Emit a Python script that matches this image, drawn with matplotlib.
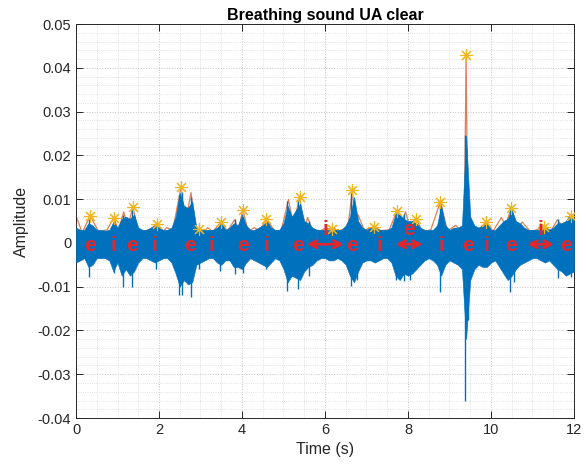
import numpy as np
import matplotlib
matplotlib.use("Agg")
import matplotlib.pyplot as plt
from matplotlib.ticker import MultipleLocator

plt.rcParams['font.family'] = ['Liberation Sans', 'DejaVu Sans']

# signal band: upper / lower extent of the waveform sampled every 0.1 s
band_t = np.linspace(0, 12, 121)
band_hi = [0.0035, 0.003, 0.003, 0.0045, 0.004, 0.003, 0.003, 0.0028, 0.003, 0.0048,
           0.0035, 0.0055, 0.006, 0.0055, 0.0065, 0.0035, 0.003, 0.003, 0.0035, 0.004,
           0.0035, 0.003, 0.003, 0.0035, 0.006, 0.0115, 0.0085, 0.008, 0.0095, 0.0035,
           0.003, 0.003, 0.003, 0.003, 0.0035, 0.0045, 0.003, 0.0035, 0.0045, 0.004,
           0.0065, 0.004, 0.003, 0.003, 0.0035, 0.004, 0.005, 0.0035, 0.003, 0.003,
           0.0045, 0.0085, 0.006, 0.0075, 0.009, 0.005, 0.0045, 0.0035, 0.003, 0.003,
           0.003, 0.003, 0.0035, 0.003, 0.003, 0.004, 0.006, 0.0105, 0.005, 0.0035,
           0.003, 0.0035, 0.0035, 0.003, 0.003, 0.003, 0.0035, 0.0065, 0.0065, 0.0055,
           0.005, 0.005, 0.0045, 0.0035, 0.003, 0.003, 0.003, 0.004, 0.0085, 0.004,
           0.003, 0.0035, 0.0035, 0.004, 0.0245, 0.006, 0.004, 0.0035, 0.004, 0.0045,
           0.003, 0.003, 0.004, 0.005, 0.0055, 0.0075, 0.005, 0.0045, 0.0035, 0.003,
           0.003, 0.003, 0.003, 0.0035, 0.003, 0.0035, 0.0045, 0.0045, 0.005, 0.0065,
           0.005]
band_lo = [-0.0045, -0.004, -0.0035, -0.0055, -0.005, -0.0035, -0.0035, -0.0035, -0.004, -0.0065,
           -0.0045, -0.0075, -0.006, -0.0075, -0.0065, -0.0045, -0.0035, -0.0035, -0.004, -0.0045,
           -0.004, -0.0035, -0.0035, -0.0045, -0.007, -0.010, -0.0085, -0.0095, -0.009, -0.005,
           -0.0045, -0.004, -0.0035, -0.0035, -0.0045, -0.005, -0.004, -0.004, -0.0055, -0.0055,
           -0.006, -0.0045, -0.0035, -0.004, -0.0045, -0.005, -0.0055, -0.0045, -0.0035, -0.004,
           -0.006, -0.009, -0.0075, -0.008, -0.0085, -0.0065, -0.0055, -0.005, -0.004, -0.0035,
           -0.0035, -0.004, -0.004, -0.0035, -0.004, -0.005, -0.0075, -0.009, -0.0065, -0.0045,
           -0.004, -0.004, -0.0045, -0.004, -0.0035, -0.0035, -0.0045, -0.0075, -0.0085, -0.007,
           -0.0075, -0.007, -0.006, -0.005, -0.004, -0.0035, -0.004, -0.005, -0.0075, -0.005,
           -0.004, -0.0045, -0.005, -0.006, -0.022, -0.0085, -0.006, -0.005, -0.0055, -0.0055,
           -0.0045, -0.004, -0.0055, -0.007, -0.0085, -0.0075, -0.006, -0.005, -0.0045, -0.004,
           -0.0035, -0.0035, -0.004, -0.0045, -0.004, -0.005, -0.006, -0.0065, -0.0075, -0.007,
           -0.0065]

# sharp individual excursions of the waveform
spike_t = [0.32, 0.91, 1.13, 1.36, 1.93, 2.48, 2.56, 2.76, 2.97, 3.48, 3.83, 4.03, 4.58,
           5.08, 5.35, 5.62, 6.62, 6.78, 7.70, 7.90, 8.05, 8.78, 9.38, 9.45, 10.45, 10.55,
           11.62, 11.92]
spike_lo = [-0.0078, -0.0068, -0.0101, -0.0101, -0.006, -0.0118, -0.012, -0.0124, -0.006,
            -0.0065, -0.007, -0.0068, -0.006, -0.011, -0.0105, -0.0075, -0.0098, -0.0085,
            -0.0085, -0.0088, -0.0085, -0.0113, -0.036, -0.0177, -0.0113, -0.009, -0.008,
            -0.0078]
spike_hi = [0.0055, 0.0053, 0.0064, 0.0075, 0.0042, 0.011, 0.0117, 0.0105, 0.003, 0.0045,
            0.0055, 0.006, 0.005, 0.0095, 0.0095, 0.005, 0.0115, 0.006, 0.0076, 0.0066,
            0.005, 0.0092, 0.0246, 0.012, 0.0083, 0.006, 0.0055, 0.0069]

# smoothed amplitude envelope
env_t = [0.0, 0.15, 0.34, 0.55, 0.75, 0.91, 1.02, 1.15, 1.25, 1.37, 1.5, 1.78, 1.95, 2.08,
         2.19, 2.33, 2.53, 2.64, 2.77, 2.9, 2.96, 3.07, 3.17, 3.3, 3.49, 3.65, 3.82, 3.92,
         4.02, 4.15, 4.3, 4.42, 4.59, 4.8, 4.95, 5.12, 5.24, 5.39, 5.5, 5.58, 5.7, 5.9, 6.0,
         6.16, 6.3, 6.4, 6.55, 6.66, 6.73, 6.8, 6.95, 7.05, 7.19, 7.35, 7.55, 7.74, 7.84,
         7.94, 8.03, 8.2, 8.35, 8.55, 8.78, 8.95, 9.15, 9.3, 9.36, 9.40, 9.44, 9.55, 9.7,
         9.88, 10.05, 10.25, 10.35, 10.49, 10.65, 10.75, 10.95, 11.1, 11.28, 11.45, 11.6,
         11.75, 11.93, 12.0]
env_a = [0.0062, 0.0023, 0.0062, 0.0025, 0.003, 0.0058, 0.0028, 0.0071, 0.0035, 0.0083,
         0.0025, 0.003, 0.0044, 0.0025, 0.0035, 0.0028, 0.0127, 0.0046, 0.0115, 0.0025,
         0.0032, 0.0024, 0.0035, 0.0026, 0.0048, 0.0027, 0.0053, 0.003, 0.0076, 0.0026,
         0.0035, 0.0027, 0.0055, 0.0025, 0.003, 0.0099, 0.0041, 0.0106, 0.003, 0.0058,
         0.003, 0.0028, 0.0033, 0.0032, 0.0025, 0.003, 0.0035, 0.012, 0.0045, 0.0064,
         0.0028, 0.0033, 0.0037, 0.0028, 0.003, 0.0074, 0.0045, 0.0071, 0.0042, 0.0055,
         0.0025, 0.003, 0.0094, 0.0028, 0.004, 0.0025, 0.004, 0.043, 0.005, 0.0025, 0.003,
         0.0048, 0.0027, 0.0058, 0.004, 0.008, 0.003, 0.0048, 0.0026, 0.003, 0.0037,
         0.0028, 0.0053, 0.0035, 0.0062, 0.005]

# detected envelope peaks
peak_t = [0.34, 0.91, 1.37, 1.95, 2.53, 2.96, 3.49, 4.02, 4.59, 5.39, 6.16, 6.66, 7.19,
          7.74, 8.2, 8.78, 9.40, 9.88, 10.49, 11.28, 11.93]
peak_a = [0.0062, 0.0058, 0.0083, 0.0044, 0.0127, 0.0032, 0.0048, 0.0076, 0.0055, 0.0106,
          0.0032, 0.012, 0.0037, 0.0074, 0.0055, 0.0094, 0.043, 0.0048, 0.008, 0.0037,
          0.0062]

# phase labels (e = expiration, i = inspiration)
phase_t = [0.34, 0.89, 1.35, 1.88, 2.74, 3.27, 4.02, 4.59, 5.34, 6.64, 7.31, 8.80, 9.45,
           9.88, 10.49, 11.81]
phase_txt = ['e', 'i', 'e', 'i', 'e', 'i', 'e', 'i', 'e', 'e', 'i', 'i', 'e', 'i', 'e', 'e']

# double arrows spanning a phase, with the label above
arrow_t0 = [5.56, 7.70, 10.87]
arrow_t1 = [6.45, 8.35, 11.52]
arrow_txt = ['i', 'e', 'i']

blue = '#0072BD'
red = '#E3262B'

fig = plt.figure(figsize=(5.86, 4.70), dpi=100)
ax = fig.add_axes([0.1297, 0.1106, 0.8498, 0.8383])

ax.plot(env_t, env_a, color='#D95319', lw=0.9, alpha=0.75, zorder=2)
ax.fill_between(band_t, band_lo, band_hi, color=blue, lw=0.4, edgecolor=blue, zorder=3)
ax.vlines(spike_t, spike_lo, spike_hi, color=blue, lw=1.0, zorder=3)
ax.plot(peak_t, peak_a, ls='none', marker=(8, 2, 0), ms=9, mew=0.8,
        color='#F0B51E', zorder=5)

for t, s in zip(phase_t, phase_txt):
    ax.text(t, -0.0006, s, color=red, fontsize=15, fontweight='bold',
            ha='center', va='center', zorder=6)

for t0, t1, s in zip(arrow_t0, arrow_t1, arrow_txt):
    ax.annotate('', xy=(t1, -0.0003), xytext=(t0, -0.0003),
                arrowprops=dict(arrowstyle='<->', color=red, lw=2.0,
                                mutation_scale=13, shrinkA=0, shrinkB=0), zorder=6)
    ax.text((t0 + t1) / 2, 0.0031, s, color=red, fontsize=15, fontweight='bold',
            ha='center', va='center', zorder=6)

ax.set_xlim(0, 12)
ax.set_ylim(-0.04, 0.05)
ax.xaxis.set_major_locator(MultipleLocator(2))
ax.xaxis.set_minor_locator(MultipleLocator(0.5))
ax.yaxis.set_minor_locator(MultipleLocator(0.002))
yt = np.arange(-4, 6) / 100
ax.set_yticks(yt)
ax.set_yticklabels(['0' if v == 0 else f'{v:.2f}' for v in yt])

ax.grid(which='major', color='#c4c4c4', ls=':', lw=0.7)
ax.grid(which='minor', color='#d8d8d8', ls=':', lw=0.6)
ax.set_axisbelow(True)

ax.tick_params(which='both', direction='in', top=True, right=True,
               labelsize=10.5, colors='#262626', width=0.7)
ax.tick_params(which='major', length=5)
ax.tick_params(which='minor', length=0)
for sp in ax.spines.values():
    sp.set_color('#262626')
    sp.set_linewidth(0.7)

ax.set_title('Breathing sound UA clear', fontsize=11.5, fontweight='bold', pad=3)
ax.set_xlabel('Time (s)', fontsize=11.5, color='#262626')
ax.set_ylabel('Amplitude', fontsize=11.5, color='#262626', labelpad=6)

fig.savefig('out.png', dpi=100)
